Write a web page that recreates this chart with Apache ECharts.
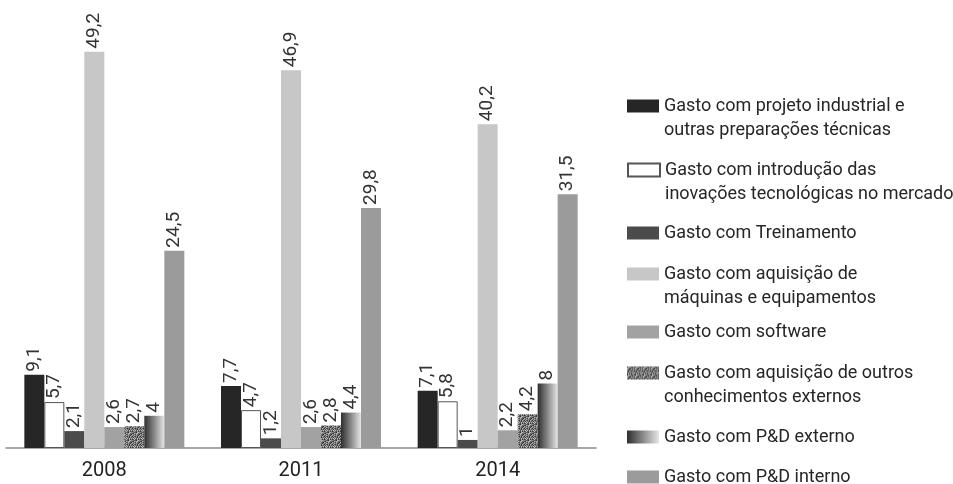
<!DOCTYPE html>
<html>
<head>
<meta charset="utf-8">
<script src="https://cdn.jsdelivr.net/npm/echarts@6/dist/echarts.min.js"></script>
<style>
  html, body { margin: 0; padding: 0; background: #fff; }
  #chart { width: 953px; height: 484px; }
</style>
</head>
<body>
<div id="chart"></div>
<script>
// Anos
const categories = ['2008', '2011', '2014'];

// Participação de cada tipo de gasto (%)
const gastoProjeto      = [9.1, 7.7, 7.1];
const gastoIntroducao   = [5.7, 4.7, 5.8];
const gastoTreinamento  = [2.1, 1.2, 1];
const gastoMaquinas     = [49.2, 46.9, 40.2];
const gastoSoftware     = [2.6, 2.6, 2.2];
const gastoConhecimento = [2.7, 2.8, 4.2];
const gastoPDExterno    = [4, 4.4, 8];
const gastoPDInterno    = [24.5, 29.8, 31.5];

const seriesNames = [
  'Gasto com projeto industrial e\noutras preparações técnicas',
  'Gasto com introdução das\ninovações tecnológicas no mercado',
  'Gasto com Treinamento',
  'Gasto com aquisição de\nmáquinas e equipamentos',
  'Gasto com software',
  'Gasto com aquisição de outros\nconhecimentos externos',
  'Gasto com P&D externo',
  'Gasto com P&D interno'
];
const seriesData = [gastoProjeto, gastoIntroducao, gastoTreinamento, gastoMaquinas,
                    gastoSoftware, gastoConhecimento, gastoPDExterno, gastoPDInterno];

const FONT = 'Roboto';

// Textura pontilhada escura para "outros conhecimentos externos"
function speckleTexture() {
  const size = 8;
  const c = document.createElement('canvas');
  c.width = size; c.height = size;
  const ctx = c.getContext('2d');
  for (let y = 0; y < size; y++) {
    for (let x = 0; x < size; x++) {
      const k = (x * 37 + y * 91 + x * y * 13 + ((x ^ y) * 7)) % 9;
      const g = 45 + k * 17;
      ctx.fillStyle = 'rgb(' + g + ',' + g + ',' + g + ')';
      ctx.fillRect(x, y, 1, 1);
    }
  }
  return c;
}

const styles = [
  { color: '#262626' },
  { color: '#ffffff', borderColor: '#555555', borderWidth: 1 },
  { color: '#4b4b4b' },
  { color: '#c7c7c7' },
  { color: '#a2a2a2' },
  { color: { image: speckleTexture(), repeat: 'repeat' } },
  { color: new echarts.graphic.LinearGradient(0, 0, 1, 0, [
      { offset: 0, color: '#2e2e2e' },
      { offset: 1, color: '#e6e6e6' }
    ]) },
  { color: '#9b9b9b' }
];

// Centro vertical do ícone de cada item da legenda
const legendIconCenters = [106, 170, 233, 274, 332, 373, 437, 477];

// Ícone com o retângulo no topo, alinhado à primeira linha de um texto de duas linhas
const topAlignedRect = 'path://M0,0L32,0L32,13L0,13Z M0,37L0.01,37';

const legends = seriesNames.map((name, i) => {
  const twoLines = name.indexOf('\n') >= 0;
  return {
    orient: 'vertical',
    left: 627,
    top: legendIconCenters[i] - 12,
    padding: 0,
    itemWidth: 32,
    itemHeight: twoLines ? 37 : 13,
    selectedMode: false,
    data: [{ name: name, icon: twoLines ? topAlignedRect : 'rect' }],
    textStyle: { fontFamily: FONT, fontSize: 18, color: '#262626', lineHeight: 24 }
  };
});

const series = seriesNames.map((name, i) => ({
  name: name,
  type: 'bar',
  barWidth: 20,
  barGap: '0%',
  data: seriesData[i],
  itemStyle: styles[i],
  label: {
    show: true,
    position: 'top',
    rotate: 90,
    align: 'left',
    verticalAlign: 'middle',
    distance: 3,
    fontFamily: FONT,
    fontSize: 19,
    color: '#333',
    formatter: p => String(p.value).replace('.', ',')
  }
}));

const chart = echarts.init(document.getElementById('chart'), null, { renderer: 'canvas' });
chart.setOption({
  animation: false,
  backgroundColor: '#fff',
  legend: legends,
  grid: { left: 6, width: 590, top: 5, bottom: 36, containLabel: false },
  xAxis: {
    type: 'category',
    data: categories,
    axisLine: { lineStyle: { color: '#8a8a8a', width: 1.5 } },
    axisTick: { show: false },
    axisLabel: { fontFamily: FONT, fontSize: 20, color: '#222', margin: 13 }
  },
  yAxis: {
    type: 'value',
    min: 0,
    max: 55,
    show: false,
    splitLine: { show: false }
  },
  series: series
});
</script>
</body>
</html>
